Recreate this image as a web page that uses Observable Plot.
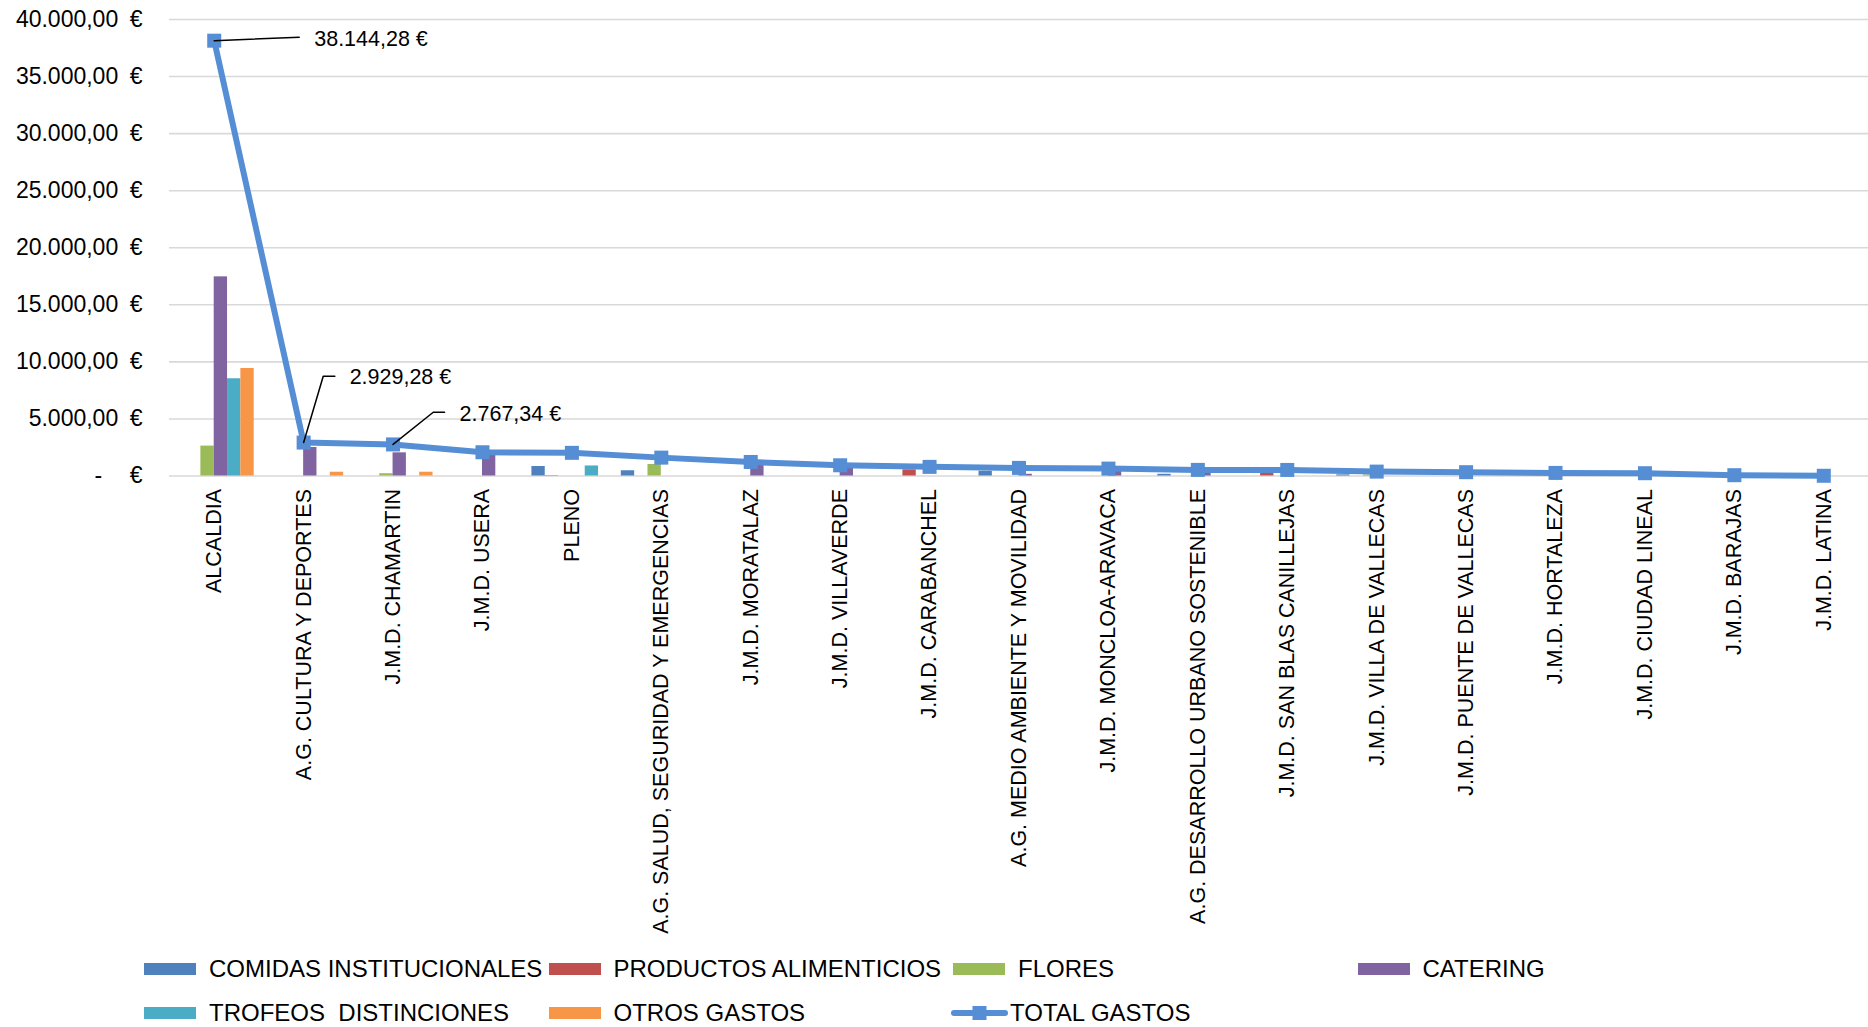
<!DOCTYPE html>
<html>
<head>
<meta charset="utf-8">
<script src="https://cdn.jsdelivr.net/npm/d3@7"></script>
<script src="https://cdn.jsdelivr.net/npm/@observablehq/plot@0.6"></script>
<style>
  html, body { margin: 0; padding: 0; background: #fff; }
  #wrap { position: relative; width: 1868px; height: 1027px; font-family: "Liberation Sans", Arial, sans-serif; color: #000; }
  #legend { position: absolute; left: 144px; top: 947px; display: grid; grid-template-columns: 404.5px 404.5px 404.5px 404.5px; grid-auto-rows: 44px; }
  .item { display: flex; align-items: center; font-size: 24px; white-space: pre; line-height: 44px; }
  .sw { display: inline-block; width: 52px; height: 12.5px; margin-right: 13px; }
  .lsw { margin-left: -2px; margin-right: 2px; }
</style>
</head>
<body>
<div id="wrap"><div id="chart"></div><div id="legend"></div></div>
<script>
// ---------- data ----------
const categories = [
  "ALCALDIA",
  "A.G. CULTURA Y DEPORTES",
  "J.M.D. CHAMARTIN",
  "J.M.D. USERA",
  "PLENO",
  "A.G. SALUD, SEGURIDAD Y EMERGENCIAS",
  "J.M.D. MORATALAZ",
  "J.M.D. VILLAVERDE",
  "J.M.D. CARABANCHEL",
  "A.G. MEDIO AMBIENTE Y MOVILIDAD",
  "J.M.D. MONCLOA-ARAVACA",
  "A.G. DESARROLLO URBANO SOSTENIBLE",
  "J.M.D. SAN BLAS CANILLEJAS",
  "J.M.D. VILLA DE VALLECAS",
  "J.M.D. PUENTE DE VALLECAS",
  "J.M.D. HORTALEZA",
  "J.M.D. CIUDAD LINEAL",
  "J.M.D. BARAJAS",
  "J.M.D. LATINA"
];
const comidas    = [0, 0, 0, 0, 830, 460, 0, 0, 0, 420, 0, 150, 0, 100, 0, 0, 0, 0, 0];
const productos  = [0, 0, 0, 0, 30, 0, 0, 0, 540, 0, 0, 0, 250, 0, 0, 0, 0, 0, 0];
const flores     = [2620, 0, 200, 0, 0, 1010, 0, 0, 0, 0, 0, 0, 0, 100, 0, 0, 0, 0, 0];
const catering   = [17450, 2500, 2030, 2000, 0, 0, 1100, 800, 0, 150, 420, 300, 0, 0, 0, 0, 0, 0, 0];
const trofeos    = [8520, 0, 0, 0, 880, 0, 0, 0, 0, 0, 0, 0, 0, 0, 0, 0, 0, 0, 0];
const otros      = [9420, 330, 330, 0, 0, 0, 0, 0, 0, 0, 0, 0, 0, 0, 0, 0, 0, 0, 0];
const totalGastos = [38144.28, 2929.28, 2767.34, 2080, 2030, 1610, 1230, 940, 800, 710, 650, 535, 530, 385, 335, 270, 245, 70, 20];
const seriesNames = ["COMIDAS INSTITUCIONALES", "PRODUCTOS ALIMENTICIOS", "FLORES", "CATERING", "TROFEOS  DISTINCIONES", "OTROS GASTOS"];
const totalName = "TOTAL GASTOS";
const yTicks = [0, 5000, 10000, 15000, 20000, 25000, 30000, 35000, 40000];
const labelledIdx = [0, 1, 2];

// ---------- styles ----------
const seriesColors = ["#4F81BD", "#C0504D", "#9BBB59", "#8064A2", "#4BACC6", "#F79646"];
const lineColor = "#558ED5";
const gridColor = "#D9D9D9";
const W = 1868, H = 945, ML = 169, MR = 0, MT = 19, MB = H - 475.5;
const step = (W - ML - MR) / categories.length;
const barW = 13.33;
const pad = (step - 6 * barW) / 2;
// label offsets (px) relative to the point, and leader polyline (px)
const annotStyle = [
  {dx: 100, dy: -2, path: [[0, 0], [85, -3.5]]},
  {dx: 46, dy: -65.5, path: [[0, 0], [19.6, -66.4], [31.2, -66.4]]},
  {dx: 66.5, dy: -30.8, path: [[0, 0], [40.2, -32.2], [51.5, -32.2]]}
];

const loc = d3.formatLocale({decimal: ",", thousands: ".", grouping: [3], currency: ["", " €"]});
const fmt2 = loc.format(",.2f");
const yFmt = d => d === 0 ? "-\u2003\u2009€" : fmt2(d) + "\u2002€";

const seriesValues = [comidas, productos, flores, catering, trofeos, otros];
const totals = categories.map((c, i) => ({cat: c, v: totalGastos[i]}));

const barMarks = seriesValues.map((vals, s) =>
  Plot.barY(
    categories.map((c, i) => ({cat: c, v: vals[i]})).filter(d => d.v > 0),
    {x: "cat", y: "v", fill: seriesColors[s],
     insetLeft: pad + s * barW, insetRight: step - pad - (s + 1) * barW}
  )
);

const annotMarks = labelledIdx.flatMap((idx, k) => {
  const st = annotStyle[k];
  const d = [totals[idx]];
  return [
    Plot.vector(d, {
      x: "cat", y: "v", length: 1, rotate: 0, anchor: "start",
      stroke: "#000", strokeWidth: 1.5, fill: "none",
      shape: {draw(ctx) { st.path.forEach(([px, py], j) => j ? ctx.lineTo(px, py) : ctx.moveTo(px, py)); }}
    }),
    Plot.text(d, {
      x: "cat", y: "v", text: r => fmt2(r.v) + " €", dx: st.dx, dy: st.dy,
      textAnchor: "start", fontSize: 21.5, fill: "#000"
    })
  ];
});

const chart = Plot.plot({
  width: W, height: H,
  marginLeft: ML, marginRight: MR, marginTop: MT, marginBottom: MB,
  style: {fontFamily: "'Liberation Sans', Arial, sans-serif", color: "#000", background: "#fff", overflow: "visible"},
  x: {type: "band", domain: categories, padding: 0, round: false},
  y: {domain: [0, 40000]},
  marks: [
    Plot.gridY(yTicks, {stroke: gridColor, strokeOpacity: 1, strokeWidth: 1.6}),
    ...barMarks,
    Plot.lineY(totals, {x: "cat", y: "v", stroke: lineColor, strokeWidth: 6, strokeLinejoin: "round"}),
    Plot.dot(totals, {x: "cat", y: "v", symbol: "square", r: 7.9, fill: lineColor, stroke: "none"}),
    ...annotMarks,
    Plot.axisY({ticks: yTicks, tickFormat: yFmt, tickSize: 0, tickPadding: 27, fontSize: 23, label: null}),
    Plot.axisX({tickRotate: -90, tickSize: 0, tickPadding: 13, fontSize: 21.5, label: null})
  ]
});
document.getElementById("chart").appendChild(chart);

// ---------- legend ----------
const legend = document.getElementById("legend");
const order = [0, 1, 2, 3, 4, 5];
order.forEach(s => {
  const it = document.createElement("div");
  it.className = "item";
  const sw = document.createElement("span");
  sw.className = "sw";
  sw.style.background = seriesColors[s];
  it.appendChild(sw);
  it.appendChild(document.createTextNode(seriesNames[s]));
  legend.appendChild(it);
});
const it = document.createElement("div");
it.className = "item";
it.innerHTML = `<svg class="lsw" width="57" height="18" viewBox="0 0 57 18"><line x1="3" y1="9" x2="54" y2="9" stroke="${lineColor}" stroke-width="6" stroke-linecap="round"/><rect x="21.5" y="2" width="14" height="14" fill="${lineColor}"/></svg>`;
it.appendChild(document.createTextNode(totalName));
legend.appendChild(it);
</script>
</body>
</html>
